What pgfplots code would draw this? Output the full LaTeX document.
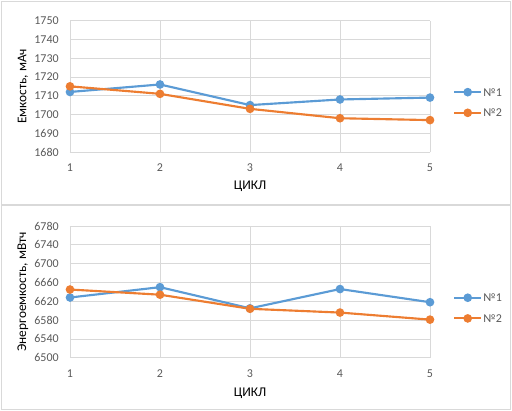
\documentclass[border=0pt]{standalone}
\usepackage{fontspec}
\setmainfont{Carlito}
\usepackage{pgfplots}
\pgfplotsset{compat=1.18}
\definecolor{xblue}{HTML}{5B9BD5}
\definecolor{xorange}{HTML}{ED7D31}
\definecolor{xgrid}{HTML}{D9D9D9}
\definecolor{xtext}{HTML}{595959}
\pgfplotsset{
  excel/.style={
    scale only axis,
    width=270pt,
    xmin=1, xmax=5,
    xtick={1,2,3,4,5},
    grid=major,
    major grid style={xgrid, line width=0.6pt},
    axis line style={draw=none},
    major tick length=0pt,
    tick label style={font=\fontsize{9}{10.5}\selectfont, text=xtext},
    label style={font=\fontsize{9}{10.5}\selectfont, text=xtext},
    xticklabel style={anchor=center, yshift=-12pt},
    yticklabel style={anchor=east, inner sep=0pt, xshift=-8.25pt},
    /pgf/number format/assume math mode=true,
    /pgf/number format/set thousands separator={},
    legend style={draw=none, fill=none, anchor=west, at={(rel axis cs:1.053,0.377)},
      font=\fontsize{9}{10.5}\selectfont, text=xtext,
      nodes={inner sep=1pt, text height=6pt, text depth=0pt},
      row sep=7.5pt},
    legend cell align=left,
    legend image code/.code={
      \draw[##1, mark=none] (0pt,0pt) -- (20pt,0pt);
      \fill[##1] (10pt,0pt) circle (2.4pt);
    },
    every axis plot/.append style={line width=1.6pt, mark=*, mark size=2.4pt},
  }
}
\begin{document}
\begin{tikzpicture}
\useasboundingbox (0pt,0pt) rectangle (384pt,-308.25pt);
\draw[xgrid, line width=0.75pt] (1.1pt,-1.1pt) rectangle (383pt,-153pt);
\draw[xgrid, line width=0.75pt] (1.1pt,-153.8pt) rectangle (383pt,-307.2pt);
\begin{axis}[excel,
  at={(52.5pt,-114pt)}, anchor=south west,
  height=98.5pt,
  ymin=1680, ymax=1750, ytick={1680,1690,...,1750},
  xlabel={ЦИКЛ}, ylabel={Емкость, мАч},
  every axis x label/.style={at={(rel axis cs:0.5,-0.262)}, anchor=center},
  every axis y label/.style={at={(rel axis cs:-0.131,0.5)}, rotate=90, anchor=center},
]
\addplot[xblue] coordinates {(1,1712) (2,1716) (3,1705) (4,1708) (5,1709)};
\addlegendentry{№1}
\addplot[xorange] coordinates {(1,1715) (2,1711) (3,1703) (4,1698) (5,1697)};
\addlegendentry{№2}
\end{axis}
\begin{axis}[excel,
  at={(52.5pt,-268.3pt)}, anchor=south west,
  height=98.8pt,
  ymin=6500, ymax=6780, ytick={6500,6540,...,6780},
  xlabel={ЦИКЛ}, ylabel={Энергоемкость, мВтч},
  every axis x label/.style={at={(rel axis cs:0.5,-0.272)}, anchor=center},
  every axis y label/.style={at={(rel axis cs:-0.131,0.5)}, rotate=90, anchor=center},
]
\addplot[xblue] coordinates {(1,6628) (2,6650) (3,6605) (4,6646) (5,6618)};
\addlegendentry{№1}
\addplot[xorange] coordinates {(1,6645) (2,6634) (3,6604) (4,6596) (5,6581)};
\addlegendentry{№2}
\end{axis}
\end{tikzpicture}
\end{document}
